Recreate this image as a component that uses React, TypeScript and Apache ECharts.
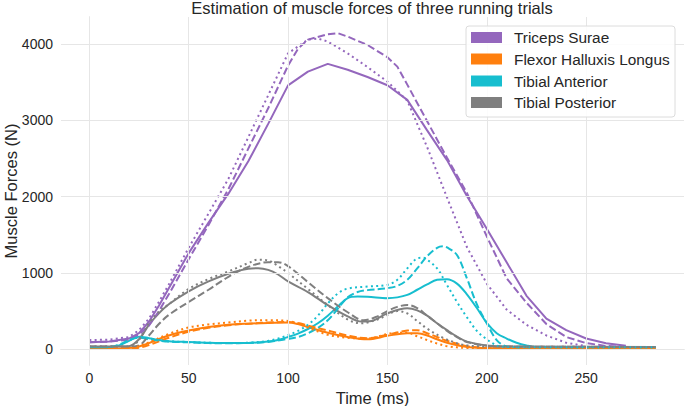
import React, { useEffect, useRef } from "react";
import * as echarts from "echarts";

const TITLE = "Estimation of muscle forces of three running trials";
const X_NAME = "Time (ms)";
const Y_NAME = "Muscle Forces (N)";
const X_TICKS = [0, 50, 100, 150, 200, 250];
const Y_TICKS = [0, 1000, 2000, 3000, 4000];
const MUSCLES = ["Triceps Surae", "Flexor Halluxis Longus", "Tibial Anterior", "Tibial Posterior"];
const COLORS = ["#9467bd", "#ff7f0e", "#17becf", "#7f7f7f"];

// Triceps Surae
const tsSolidT = [0, 10, 20, 25, 30, 35, 40, 50, 60, 70, 80, 90, 100, 110, 120, 130, 140, 150, 160, 170, 180, 190, 200, 210, 220, 230, 240, 250, 260, 270];
const tsSolidF = [90, 100, 140, 210, 360, 570, 800, 1260, 1660, 2040, 2465, 2955, 3460, 3640, 3742, 3665, 3570, 3462, 3270, 2870, 2480, 2010, 1580, 1140, 700, 400, 250, 140, 78, 45];
const tsDashT = [0, 10, 20, 25, 30, 35, 40, 50, 60, 70, 80, 90, 100, 105, 110, 120, 125, 130, 140, 150, 155, 160, 170, 180, 190, 200, 210, 220, 230, 240, 250, 260, 270];
const tsDashF = [90, 100, 125, 190, 310, 500, 720, 1180, 1630, 2100, 2630, 3160, 3720, 3940, 4060, 4130, 4145, 4100, 3990, 3830, 3706, 3470, 2990, 2510, 2050, 1480, 930, 610, 330, 160, 80, 43, 30];
const tsDotT = [0, 10, 20, 25, 30, 35, 40, 50, 60, 70, 80, 90, 100, 110, 115, 120, 130, 140, 150, 160, 170, 180, 190, 200, 210, 220, 230, 240, 250];
const tsDotF = [120, 125, 160, 250, 400, 620, 850, 1330, 1780, 2235, 2780, 3330, 3880, 4060, 4075, 4035, 3880, 3700, 3510, 3260, 2650, 1990, 1340, 860, 520, 320, 180, 85, 40];

// Flexor Halluxis Longus
const fhlSolidT = [0, 15, 20, 25, 30, 40, 50, 60, 70, 80, 90, 100, 105, 110, 120, 130, 140, 150, 160, 165, 170, 175, 180, 190, 200, 210, 285];
const fhlSolidF = [10, 10, 15, 35, 80, 180, 245, 290, 320, 335, 345, 350, 330, 290, 215, 160, 130, 175, 210, 208, 180, 130, 85, 30, 15, 10, 8];
const fhlDashT = [0, 20, 25, 30, 40, 50, 60, 70, 80, 90, 100, 105, 110, 120, 130, 140, 150, 160, 165, 170, 175, 180, 190, 200, 210, 285];
const fhlDashF = [10, 10, 20, 55, 150, 230, 280, 315, 335, 350, 358, 345, 310, 245, 180, 145, 190, 245, 250, 210, 160, 110, 40, 15, 10, 8];
const fhlDotT = [0, 20, 25, 30, 40, 50, 60, 70, 80, 90, 100, 105, 110, 120, 130, 140, 150, 155, 160, 165, 170, 175, 180, 190, 200, 285];
const fhlDotF = [10, 12, 40, 90, 200, 285, 325, 350, 375, 380, 370, 335, 285, 190, 150, 140, 200, 215, 215, 170, 120, 75, 40, 15, 10, 8];

// Tibial Anterior
const taSolidT = [0, 10, 15, 20, 25, 30, 35, 40, 50, 60, 70, 80, 90, 95, 100, 105, 110, 115, 120, 125, 130, 135, 140, 150, 155, 160, 165, 170, 175, 180, 185, 190, 195, 200, 205, 210, 215, 220, 225, 285];
const taSolidF = [25, 28, 50, 110, 165, 145, 120, 105, 95, 85, 80, 82, 100, 122, 160, 205, 265, 340, 440, 560, 670, 690, 688, 670, 680, 712, 780, 850, 910, 918, 860, 720, 540, 345, 210, 140, 85, 50, 30, 25];
const taDashT = [0, 10, 15, 20, 25, 30, 40, 50, 60, 70, 80, 90, 95, 100, 105, 110, 115, 120, 125, 130, 135, 140, 150, 155, 160, 165, 170, 175, 178, 180, 185, 190, 195, 200, 205, 210, 215, 285];
const taDashF = [25, 28, 60, 120, 150, 130, 100, 90, 80, 78, 82, 95, 115, 135, 160, 210, 280, 380, 530, 680, 750, 775, 800, 830, 910, 1060, 1220, 1330, 1350, 1335, 1235, 930, 590, 340, 120, 35, 25, 25];
const taDotT = [0, 10, 15, 20, 25, 30, 40, 50, 60, 70, 80, 90, 95, 100, 105, 110, 115, 120, 125, 130, 140, 150, 155, 160, 165, 168, 170, 175, 180, 185, 190, 195, 200, 205, 210, 285];
const taDotF = [25, 28, 55, 115, 160, 140, 105, 95, 85, 80, 85, 110, 140, 185, 240, 320, 440, 600, 730, 795, 822, 845, 910, 1060, 1190, 1200, 1175, 1060, 842, 620, 420, 240, 130, 50, 28, 25];

// Tibial Posterior
const tpSolidT = [0, 15, 20, 25, 30, 35, 40, 50, 60, 70, 80, 85, 90, 95, 100, 110, 120, 130, 137, 142, 150, 160, 165, 170, 175, 180, 185, 190, 200, 210, 285];
const tpSolidF = [35, 35, 40, 130, 320, 470, 590, 760, 890, 990, 1055, 1062, 1040, 980, 890, 750, 578, 430, 362, 370, 470, 537, 510, 440, 340, 250, 166, 100, 50, 35, 30];
const tpDashT = [0, 20, 25, 30, 35, 40, 50, 60, 70, 80, 90, 95, 100, 110, 120, 130, 138, 145, 150, 155, 160, 165, 170, 175, 180, 185, 190, 200, 210, 285];
const tpDashF = [35, 35, 50, 180, 330, 450, 620, 780, 950, 1080, 1140, 1140, 1090, 880, 670, 485, 380, 430, 500, 555, 580, 540, 440, 340, 240, 160, 95, 45, 35, 30];
const tpDotT = [0, 20, 25, 30, 35, 40, 50, 60, 70, 80, 85, 90, 95, 100, 110, 120, 130, 137, 145, 150, 155, 160, 165, 170, 178, 185, 190, 200, 285];
const tpDotF = [35, 35, 120, 340, 490, 590, 790, 920, 1020, 1130, 1175, 1165, 1090, 1000, 790, 580, 390, 340, 390, 450, 500, 470, 370, 270, 150, 80, 50, 35, 30];

const TRIALS: [number[], number[]][][] = [
  [[tsSolidT, tsSolidF], [tsDashT, tsDashF], [tsDotT, tsDotF]],
  [[fhlSolidT, fhlSolidF], [fhlDashT, fhlDashF], [fhlDotT, fhlDotF]],
  [[taSolidT, taSolidF], [taDashT, taDashF], [taDotT, taDotF]],
  [[tpSolidT, tpSolidF], [tpDashT, tpDashF], [tpDotT, tpDotF]],
];

const DASHES: any[] = ["solid", [7.4, 3.2], [2, 3.3]];
const FONT = "'Liberation Sans', Arial, sans-serif";
const TEXT = "#262626";

export default function App() {
  const ref = useRef<HTMLDivElement>(null);
  useEffect(() => {
    document.body.style.margin = "0";
    if (!ref.current) return;
    const chart = echarts.init(ref.current, undefined, { renderer: "svg" });
    const series: any[] = [
      {
        type: "line",
        name: "grid",
        data: [],
        z: 1,
        silent: true,
        markLine: {
          silent: true,
          symbol: ["none", "none"],
          label: { show: false },
          animation: false,
          lineStyle: { color: "#e6e6e6", width: 1, type: "solid" },
          data: [
            ...X_TICKS.map((v) => ({ xAxis: v })),
            ...Y_TICKS.map((v) => ({ yAxis: v })),
          ],
        },
      },
    ];
    for (let k = 0; k < 3; k++) {
      for (let m = 0; m < 4; m++) {
        const [T, F] = TRIALS[m][k];
        series.push({
          type: "line",
          name: MUSCLES[m] + " " + (k + 1),
          data: T.map((t, i) => [t, F[i]]),
          showSymbol: false,
          symbol: "none",
          smooth: m === 0 ? false : 0.35,
          z: 3,
          lineStyle: { color: COLORS[m], width: 2, type: DASHES[k], cap: "butt" },
          itemStyle: { color: COLORS[m] },
        });
      }
    }
    const legendGraphics: any[] = [
      {
        type: "rect",
        shape: { x: 466, y: 26, width: 209, height: 91, r: 3 },
        style: { fill: "rgba(255,255,255,0.85)", stroke: "#dcdcdc", lineWidth: 1 },
        z: 10,
      },
    ];
    const rowY = [37.5, 59, 81, 102.5];
    MUSCLES.forEach((name, i) => {
      legendGraphics.push({
        type: "rect",
        shape: { x: 471, y: rowY[i] - 5.5, width: 31, height: 11 },
        style: { fill: COLORS[i] },
        z: 11,
      });
      legendGraphics.push({
        type: "text",
        x: 514,
        y: rowY[i],
        style: { text: name, fill: TEXT, font: `15.4px ${FONT}`, verticalAlign: "middle", align: "left" },
        z: 11,
      });
    });
    chart.setOption({
      animation: false,
      backgroundColor: "#ffffff",
      grid: { left: 61, right: 1, top: 17, bottom: 41, containLabel: false, outerBoundsMode: "none" },
      xAxis: {
        type: "value",
        min: -14.25,
        max: 299.25,
        name: X_NAME,
        nameLocation: "middle",
        nameGap: 21,
        nameTextStyle: { color: TEXT, fontSize: 16.5, fontFamily: FONT, verticalAlign: "top" },
        axisLine: { show: true, lineStyle: { color: "#d0d0d0", width: 1 } },
        axisTick: { show: false, customValues: X_TICKS },
        splitLine: { show: false },
        axisLabel: { customValues: X_TICKS, color: TEXT, fontSize: 14, fontFamily: FONT, margin: 6 },
      },
      yAxis: {
        type: "value",
        min: -207,
        max: 4357,
        axisLine: { show: true, lineStyle: { color: "#d0d0d0", width: 1 } },
        axisTick: { show: false, customValues: Y_TICKS },
        splitLine: { show: false },
        axisLabel: {
          customValues: Y_TICKS,
          color: TEXT,
          fontSize: 14,
          fontFamily: FONT,
          margin: 8,
          formatter: (v: number) => String(v),
        },
      },
      series,
      graphic: [
        {
          type: "text",
          x: 372,
          y: 8,
          style: { text: TITLE, fill: TEXT, font: `16.5px ${FONT}`, align: "center", verticalAlign: "middle" },
        },
        {
          type: "text",
          x: 11,
          y: 191,
          rotation: Math.PI / 2,
          style: { text: Y_NAME, fill: TEXT, font: `16.5px ${FONT}`, align: "center", verticalAlign: "middle" },
        },
        ...legendGraphics,
      ],
    });
    return () => chart.dispose();
  }, []);
  return <div ref={ref} style={{ width: 685, height: 406 }} />;
}
